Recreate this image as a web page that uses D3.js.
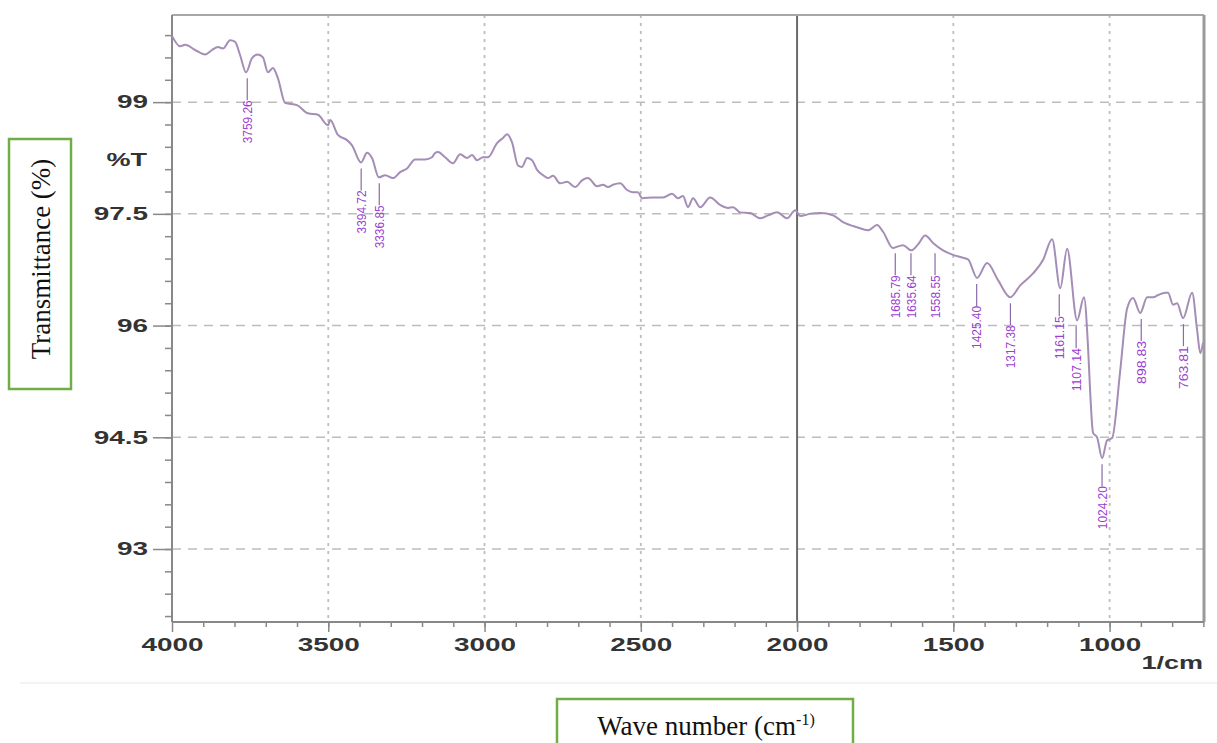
<!DOCTYPE html>
<html>
<head>
<meta charset="utf-8">
<script src="https://cdn.jsdelivr.net/npm/d3@7"></script>
<style>
  body { margin: 0; background: #fff; }
  svg { display: block; }
  .axis text { font-family: "Liberation Sans", Arial, sans-serif; font-size: 18px; font-weight: bold; fill: #333; }
  .axis line { stroke: #888; stroke-width: 1.5; }
  .axis path { display: none; }
  .unit-label { font-family: "Liberation Sans", Arial, sans-serif; font-size: 18px; font-weight: bold; fill: #333; }
  .peak-label { font-family: "Liberation Sans Narrow", "Arial Narrow", sans-serif; font-size: 13px; fill: #9a3fcf; }
  .box-label { font-family: "Liberation Serif", "Times New Roman", serif; fill: #111; }
</style>
</head>
<body>
<div id="chart"></div>
<script>
// FTIR spectrum (wavenumber in 1/cm, %T)
const wavenumber = [4000, 3974, 3958, 3926, 3894, 3872, 3853, 3837, 3814, 3798,
  3782, 3763, 3744, 3725, 3709, 3693, 3677, 3661, 3638, 3600,
  3565, 3533, 3501, 3494, 3469, 3440, 3424, 3395, 3376, 3360,
  3338, 3318, 3293, 3270, 3248, 3222, 3190, 3168, 3158, 3149,
  3126, 3101, 3078, 3056, 3040, 3024, 3005, 2989, 2960, 2941,
  2928, 2912, 2893, 2880, 2864, 2848, 2832, 2813, 2797, 2781,
  2758, 2736, 2710, 2688, 2669, 2640, 2621, 2605, 2589, 2566,
  2544, 2525, 2509, 2496, 2461, 2429, 2400, 2381, 2365, 2349,
  2333, 2310, 2278, 2246, 2221, 2205, 2182, 2150, 2118, 2093,
  2064, 2032, 2006, 1990, 1958, 1926, 1885, 1853, 1808, 1773,
  1744, 1725, 1693, 1686, 1661, 1635, 1613, 1590, 1565, 1533,
  1501, 1478, 1453, 1424, 1392, 1357, 1318, 1286, 1245, 1213,
  1184, 1158, 1136, 1104, 1082, 1069, 1062, 1053, 1040, 1024,
  1008, 992, 966, 944, 925, 902, 880, 861, 845, 822,
  813, 797, 784, 765, 736, 720, 710, 701];

const transmittance = [99.89, 99.75, 99.77, 99.70, 99.64, 99.70, 99.74, 99.72, 99.83, 99.81,
  99.63, 99.40, 99.59, 99.64, 99.60, 99.40, 99.46, 99.32, 98.99, 98.96,
  98.85, 98.83, 98.69, 98.76, 98.56, 98.49, 98.42, 98.19, 98.32, 98.25,
  97.99, 98.02, 97.98, 98.06, 98.11, 98.23, 98.23, 98.26, 98.32, 98.33,
  98.26, 98.18, 98.30, 98.25, 98.29, 98.22, 98.26, 98.26, 98.45, 98.52,
  98.57, 98.46, 98.15, 98.13, 98.25, 98.22, 98.09, 98.02, 97.98, 98.01,
  97.91, 97.93, 97.86, 97.95, 97.98, 97.87, 97.89, 97.86, 97.89, 97.91,
  97.82, 97.79, 97.79, 97.71, 97.72, 97.72, 97.77, 97.71, 97.74, 97.59,
  97.71, 97.59, 97.72, 97.62, 97.58, 97.59, 97.52, 97.51, 97.44, 97.48,
  97.52, 97.44, 97.55, 97.47, 97.50, 97.51, 97.48, 97.39, 97.32, 97.28,
  97.35, 97.26, 97.04, 97.05, 97.08, 97.01, 97.09, 97.21, 97.11, 97.01,
  96.95, 96.92, 96.89, 96.64, 96.84, 96.61, 96.38, 96.54, 96.70, 96.88,
  97.16, 96.50, 97.03, 96.07, 96.38, 95.71, 95.09, 94.56, 94.50, 94.22,
  94.46, 94.49, 95.40, 96.23, 96.37, 96.17, 96.38, 96.38, 96.41, 96.44,
  96.44, 96.28, 96.30, 96.10, 96.44, 95.94, 95.63, 95.77];

// Peak picks
const peakLabels = ["3759.26", "3394.72", "3336.85", "1685.79", "1635.64", "1558.55", "1425.40",
  "1317.38", "1161.15", "1107.14", "1024.20", "898.83", "763.81"];
const peakWavenumber = [3759.26, 3394.72, 3336.85, 1685.79, 1635.64, 1558.55, 1425.40,
  1317.38, 1161.15, 1107.14, 1024.20, 898.83, 763.81];
const peakTransmittance = [99.40, 98.19, 97.99, 97.05, 97.05, 97.05, 96.64,
  96.38, 96.50, 96.07, 94.22, 96.17, 96.10];

// Axis ticks
const xMajorTicks = [4000, 3500, 3000, 2500, 2000, 1500, 1000];
const yMajorTicks = [93, 94.5, 96, 97.5, 99];
const yTickLabels = ["93", "94.5", "96", "97.5", "99"];

// widen a text element horizontally (the original picture has stretched lettering)
function stretchText(sel, factor) {
  sel.each(function() {
    const len = this.getComputedTextLength();
    d3.select(this).attr('textLength', len * factor).attr('lengthAdjust', 'spacingAndGlyphs');
  });
}

class SpectrumChart {

  constructor(_config, _data, _peaks) {
    this.config = {
      parentElement: _config.parentElement,
      containerWidth: _config.containerWidth || 1217,
      containerHeight: _config.containerHeight || 743,
      margin: _config.margin || {top: 15, right: 13, bottom: 121, left: 172}
    }
    this.data = _data;
    this.peaks = _peaks;
    this.initVis();
  }

  initVis() {
    let vis = this;

    vis.width = vis.config.containerWidth - vis.config.margin.left - vis.config.margin.right;
    vis.height = vis.config.containerHeight - vis.config.margin.top - vis.config.margin.bottom;

    // wavenumber runs right to left
    vis.xScale = d3.scaleLinear()
      .domain([4000, 698])
      .range([0, vis.width]);

    vis.yScale = d3.scaleLinear()
      .domain([92.02, 100.17])
      .range([vis.height, 0]);

    vis.svg = d3.select(vis.config.parentElement)
      .append('svg')
      .attr('width', vis.config.containerWidth)
      .attr('height', vis.config.containerHeight);

    // faint edge of the pasted spectrum picture
    vis.svg.append('line')
      .attr('x1', 20).attr('x2', vis.config.containerWidth)
      .attr('y1', 683).attr('y2', 683)
      .attr('stroke', '#f1f3f6').attr('stroke-width', 2);

    vis.chart = vis.svg.append('g')
      .attr('transform', `translate(${vis.config.margin.left},${vis.config.margin.top})`);

    vis.gridG = vis.chart.append('g').attr('class', 'grid');
    vis.xAxisMinorG = vis.chart.append('g').attr('class', 'axis x-axis-minor')
      .attr('transform', `translate(0,${vis.height})`);
    vis.xAxisG = vis.chart.append('g').attr('class', 'axis x-axis')
      .attr('transform', `translate(0,${vis.height})`);
    vis.yAxisMinorG = vis.chart.append('g').attr('class', 'axis y-axis-minor');
    vis.yAxisG = vis.chart.append('g').attr('class', 'axis y-axis');
    vis.frameG = vis.chart.append('g').attr('class', 'frame');
    vis.lineG = vis.chart.append('g');
    vis.peakG = vis.chart.append('g');

    // unit labels
    vis.svg.append('text')
      .attr('class', 'unit-label')
      .attr('x', 147).attr('y', 160)
      .attr('text-anchor', 'end')
      .attr('dy', '0.35em')
      .text('%T')
      .call(stretchText, 1.5);

    vis.svg.append('text')
      .attr('class', 'unit-label')
      .attr('x', 1203).attr('y', 663)
      .attr('text-anchor', 'end')
      .attr('dy', '0.35em')
      .text('1/cm')
      .call(stretchText, 1.5);

    // green caption boxes
    vis.svg.append('rect')
      .attr('x', 9).attr('y', 139).attr('width', 62).attr('height', 250)
      .attr('fill', '#fff').attr('stroke', '#70ad47').attr('stroke-width', 2.5);
    vis.svg.append('text')
      .attr('class', 'box-label')
      .attr('transform', 'translate(41,259) rotate(-90)')
      .attr('text-anchor', 'middle')
      .attr('dy', '0.35em')
      .style('font-size', '27px')
      .text('Transmittance (%)');

    vis.svg.append('rect')
      .attr('x', 557).attr('y', 699).attr('width', 296).attr('height', 70)
      .attr('fill', '#fff').attr('stroke', '#70ad47').attr('stroke-width', 2.5);
    const xCap = vis.svg.append('text')
      .attr('class', 'box-label')
      .attr('x', 706).attr('y', 735)
      .attr('text-anchor', 'middle')
      .style('font-size', '27px');
    xCap.append('tspan').text('Wave number (cm');
    xCap.append('tspan').attr('dy', -10).style('font-size', '16px').text('-1)');

    vis.updateVis();
  }

  updateVis() {
    let vis = this;
    vis.xValue = d => d.wn;
    vis.yValue = d => d.t;

    vis.line = d3.line()
      .x(d => vis.xScale(vis.xValue(d)))
      .y(d => vis.yScale(vis.yValue(d)))
      .curve(d3.curveMonotoneX);

    vis.renderVis();
  }

  renderVis() {
    let vis = this;

    // grid: dashed horizontals, dotted verticals, solid line at 2000
    vis.gridG.selectAll('.h-grid')
      .data(yMajorTicks)
      .join('line')
      .attr('class', 'h-grid')
      .attr('x1', 0).attr('x2', vis.width)
      .attr('y1', d => vis.yScale(d)).attr('y2', d => vis.yScale(d))
      .attr('stroke', '#bdbdbd').attr('stroke-width', 1.5)
      .attr('stroke-dasharray', '9,7');

    vis.gridG.selectAll('.v-grid')
      .data(xMajorTicks.filter(d => d !== 4000))
      .join('line')
      .attr('class', 'v-grid')
      .attr('x1', d => vis.xScale(d)).attr('x2', d => vis.xScale(d))
      .attr('y1', 0).attr('y2', vis.height)
      .attr('stroke', d => d === 2000 ? '#6a6a6a' : '#bdbdbd')
      .attr('stroke-width', d => d === 2000 ? 2 : 1.8)
      .attr('stroke-dasharray', d => d === 2000 ? null : '3,5');

    // axes
    vis.xAxisMinorG.call(d3.axisBottom(vis.xScale)
      .tickValues(d3.range(3900, 600, -100))
      .tickSize(5).tickFormat(''));
    vis.xAxisG.call(d3.axisBottom(vis.xScale)
      .tickValues(xMajorTicks)
      .tickSize(10).tickPadding(6).tickFormat(d3.format('d')));
    vis.xAxisG.selectAll('text').call(stretchText, 1.55);

    vis.yAxisMinorG.call(d3.axisLeft(vis.yScale)
      .tickValues(d3.range(92.1, 100.1, 0.3))
      .tickSize(7).tickFormat(''));
    vis.yAxisG.call(d3.axisLeft(vis.yScale)
      .tickValues(yMajorTicks)
      .tickSize(19).tickPadding(5)
      .tickFormat((d, i) => yTickLabels[i]));
    vis.yAxisG.selectAll('text').call(stretchText, 1.55);

    // frame
    const frame = [
      {x1: 0, y1: 0, x2: vis.width, y2: 0, c: '#a8a8a8', w: 2},
      {x1: vis.width, y1: 0, x2: vis.width, y2: vis.height, c: '#9a9a9a', w: 3},
      {x1: 0, y1: 0, x2: 0, y2: vis.height, c: '#888', w: 2},
      {x1: 0, y1: vis.height, x2: vis.width, y2: vis.height, c: '#888', w: 2}
    ];
    vis.frameG.selectAll('line')
      .data(frame)
      .join('line')
      .attr('x1', d => d.x1).attr('y1', d => d.y1)
      .attr('x2', d => d.x2).attr('y2', d => d.y2)
      .attr('stroke', d => d.c).attr('stroke-width', d => d.w);

    // spectrum
    vis.lineG.selectAll('.spectrum')
      .data([vis.data])
      .join('path')
      .attr('class', 'spectrum')
      .attr('d', vis.line)
      .attr('fill', 'none')
      .attr('stroke', '#a48db6')
      .attr('stroke-width', 2)
      .attr('stroke-linejoin', 'round');

    // peak picks: short leader + rotated value
    vis.peakG.selectAll('.peak-line')
      .data(vis.peaks)
      .join('line')
      .attr('class', 'peak-line')
      .attr('x1', d => vis.xScale(d.wn)).attr('x2', d => vis.xScale(d.wn))
      .attr('y1', d => vis.yScale(d.t) + 6)
      .attr('y2', d => vis.yScale(d.t) + 28)
      .attr('stroke', '#8a6aa8').attr('stroke-width', 1.2);

    vis.peakG.selectAll('.peak-label')
      .data(vis.peaks)
      .join('text')
      .attr('class', 'peak-label')
      .attr('transform', d => `translate(${vis.xScale(d.wn)},${vis.yScale(d.t) + 28}) rotate(-90)`)
      .attr('text-anchor', 'end')
      .attr('dy', '0.35em')
      .attr('textLength', 43)
      .attr('lengthAdjust', 'spacingAndGlyphs')
      .text(d => d.label);
  }
}

const spectrum = wavenumber.map((wn, i) => ({wn: wn, t: transmittance[i]}));
const peaks = peakLabels.map((label, i) => ({label: label, wn: peakWavenumber[i], t: peakTransmittance[i]}));

const chart = new SpectrumChart({parentElement: '#chart'}, spectrum, peaks);
</script>
</body>
</html>
